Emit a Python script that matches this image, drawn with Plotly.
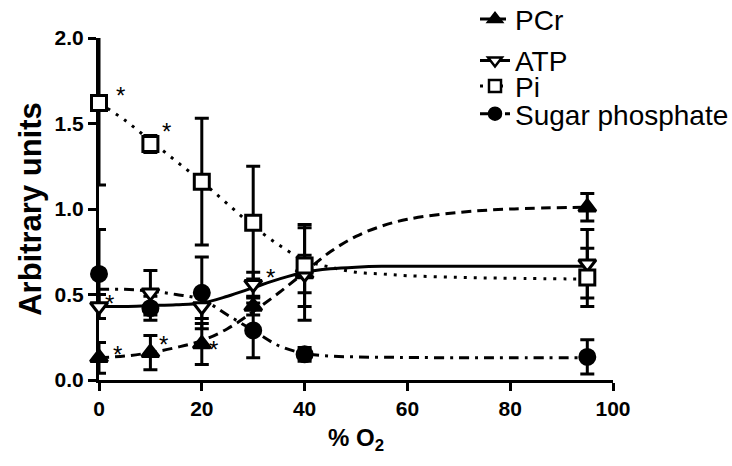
import plotly.graph_objects as go

# ---------------- data ----------------
o2 = [0, 10, 20, 30, 40, 95]

pcr = [0.13, 0.16, 0.21, 0.43, 0.62, 1.01]
pcr_err = [0.09, 0.10, 0.12, 0.05, 0.27, 0.08]
atp = [0.43, 0.51, 0.43, 0.56, 0.62, 0.68]
atp_err = [0.07, 0.13, 0.07, 0.07, 0.11, 0.20]
pi = [1.62, 1.38, 1.16, 0.92, 0.67, 0.60]
pi_err = [0.48, 0.05, 0.37, 0.33, 0.24, 0.17]
sugar = [0.62, 0.42, 0.51, 0.29, 0.15, 0.135]
sugar_err = [0.26, 0.07, 0.21, 0.16, 0.04, 0.10]

# fitted curves
fit_x = [0, 5, 10, 15, 20, 25, 30, 35, 40, 45, 50, 55, 60, 70, 80, 95]
pcr_fit = [0.13, 0.14, 0.16, 0.19, 0.23, 0.30, 0.40, 0.51, 0.63, 0.75, 0.84, 0.90, 0.94, 0.98, 1.00, 1.01]
atp_fit = [0.43, 0.43, 0.435, 0.44, 0.45, 0.49, 0.54, 0.59, 0.63, 0.65, 0.66, 0.665, 0.665, 0.665, 0.665, 0.665]
pi_fit = [1.62, 1.52, 1.40, 1.28, 1.16, 1.03, 0.90, 0.79, 0.70, 0.66, 0.63, 0.62, 0.61, 0.60, 0.595, 0.59]
sugar_fit = [0.53, 0.53, 0.52, 0.50, 0.47, 0.38, 0.29, 0.20, 0.155, 0.14, 0.135, 0.133, 0.132, 0.13, 0.13, 0.13]

names = ["PCr", "ATP", "Pi", "Sugar phosphate"]
x_ticks = [0, 20, 40, 60, 80, 100]
y_ticks = [0.0, 0.5, 1.0, 1.5, 2.0]

# significance marks: (series, point index, right offset px, down offset px of star from point)
stars = [("Pi", 0, 21, -13), ("Pi", 1, 16, -19), ("ATP", 0, 10, -9), ("ATP", 3, 17, -13),
         ("PCr", 0, 18, -9), ("PCr", 1, 13, -14), ("PCr", 2, 12, -1)]

# ---------------- styles ----------------
FONT = "Liberation Sans, Arial, sans-serif"
styles = {
    "PCr": dict(dash="10px,6px", symbol="triangle-up", fill="black", vals=pcr, err=pcr_err, fit=pcr_fit),
    "ATP": dict(dash="solid", symbol="triangle-down", fill="white", vals=atp, err=atp_err, fit=atp_fit),
    "Pi": dict(dash="3px,7px", symbol="square", fill="white", vals=pi, err=pi_err, fit=pi_fit),
    "Sugar phosphate": dict(dash="10px,6px,3px,6px", symbol="circle", fill="black", vals=sugar, err=sugar_err, fit=sugar_fit),
}

fig = go.Figure()

# fitted curves
for n in names:
    s = styles[n]
    fig.add_trace(go.Scatter(x=fit_x, y=s["fit"], mode="lines",
                             line=dict(color="black", width=3, dash=s["dash"], shape="spline"),
                             showlegend=False, hoverinfo="skip"))

# error bars (clipped to plot area)
for n in names:
    s = styles[n]
    fig.add_trace(go.Scatter(x=o2, y=s["vals"], mode="markers", marker=dict(size=1, opacity=0),
                             error_y=dict(type="data", array=s["err"], color="black", thickness=3, width=7),
                             showlegend=False, cliponaxis=True, hoverinfo="skip"))

# markers
for n in names:
    s = styles[n]
    fig.add_trace(go.Scatter(x=o2, y=s["vals"], mode="markers", cliponaxis=False,
                             marker=dict(symbol=s["symbol"], size=15, color=s["fill"], line=dict(color="black", width=3)),
                             showlegend=False))

# legends (one per entry to reproduce the uneven spacing)
legend_pos = [(1.015, "top"), (0.840, "middle"), (0.773, "middle"), (0.700, "middle")]
for i, n in enumerate(names):
    s = styles[n]
    lg = "legend" if i == 0 else f"legend{i+1}"
    fig.add_trace(go.Scatter(x=[None], y=[None], mode="lines+markers", name=n, legend=lg,
                             line=dict(color="black", width=3, dash=s["dash"]),
                             marker=dict(symbol=s["symbol"], size=12, color=s["fill"], line=dict(color="black", width=2.5))))
    fig.update_layout(**{lg: dict(x=0.594, y=legend_pos[i][0], xanchor="left", yanchor=legend_pos[i][1],
                                  bgcolor="rgba(0,0,0,0)", font=dict(family=FONT, size=28, color="black"),
                                  itemwidth=30)})

# asterisks
series_vals = {n: styles[n]["vals"] for n in names}
for n, idx, dx, dy in stars:
    fig.add_annotation(x=o2[idx], y=series_vals[n][idx], text="*", showarrow=False,
                       xshift=dx, yshift=-dy - 6,
                       font=dict(family=FONT, size=24, color="black"))

axis_common = dict(showline=True, linecolor="black", linewidth=3, ticks="outside", ticklen=8, tickwidth=3,
                   tickcolor="black", showgrid=False, zeroline=False, layer="below traces",
                   tickfont=dict(family=FONT, size=21, color="black", weight="bold"))

fig.update_xaxes(range=[0, 100], domain=[0, 514 / 633], tickvals=x_ticks, ticktext=[str(v) for v in x_ticks],
                 title=dict(text="% O<sub>2</sub>", font=dict(family=FONT, size=24, color="black", weight="bold"), standoff=10),
                 **axis_common)
fig.update_yaxes(range=[0, 2], domain=[0, 342 / 380], tickvals=y_ticks, ticktext=[f"{v:.1f}" for v in y_ticks],
                 title=dict(text="Arbitrary units", font=dict(family=FONT, size=31, color="black", weight="bold"), standoff=4),
                 **axis_common)

fig.update_layout(width=732, height=466, margin=dict(l=99, r=0, t=0, b=86, autoexpand=False),
                  plot_bgcolor="white", paper_bgcolor="white", showlegend=True)

fig.write_html("out.html")
